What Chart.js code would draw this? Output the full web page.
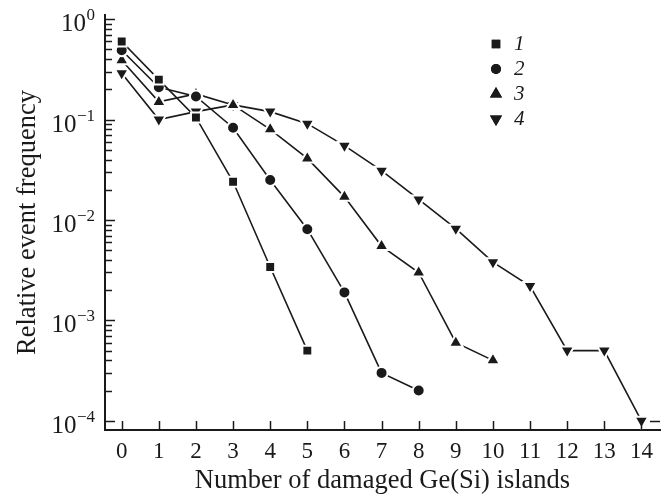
<!DOCTYPE html>
<html>
<head>
<meta charset="utf-8">
<script src="https://cdn.jsdelivr.net/npm/chart.js@4/dist/chart.umd.min.js"></script>
<style>
  html, body { margin: 0; padding: 0; background: #fff; }
  #wrap { width: 670px; height: 499px; }
</style>
</head>
<body>
<div id="wrap"><canvas id="myChart"></canvas></div>
<script>
  const islands = [0, 1, 2, 3, 4, 5, 6, 7, 8, 9, 10, 11, 12, 13, 14];
  const seriesNames = ['1', '2', '3', '4'];

  const series1 = [0.60, 0.25, 0.105, 0.024, 0.0034, 0.0005];
  const series2 = [0.49, 0.21, 0.17, 0.083, 0.025, 0.0081, 0.0019, 0.0003, 0.0002];
  const series3 = [0.39, 0.15, 0.18, 0.14, 0.08, 0.041, 0.017, 0.0055, 0.0030, 0.0006, 0.0004];
  const series4 = [0.29, 0.10, 0.12, 0.14, 0.12, 0.091, 0.055, 0.031, 0.016, 0.0082, 0.0038, 0.0022, 0.0005, 0.0005, 0.0001];

  const yDecades = [0, -1, -2, -3, -4];

  const ink = '#1a1a1a';
  const serif = '"Liberation Serif", "Times New Roman", serif';

  function pts(vals) {
    return vals.map((v, i) => ({ x: islands[i], y: v }));
  }

  function ds(label, vals, style, radius, rotation) {
    return {
      label: label,
      data: pts(vals),
      borderColor: ink,
      borderWidth: 1.6,
      backgroundColor: ink,
      pointStyle: style,
      pointRadius: radius,
      pointRotation: rotation,
      pointBackgroundColor: ink,
      pointBorderColor: '#fff',
      pointBorderWidth: 2,
      tension: 0
    };
  }

  // inward ticks, 10^n labels and legend
  const decor = {
    id: 'decor',
    afterDraw(chart) {
      const ctx = chart.ctx;
      const xs = chart.scales.x, ys = chart.scales.y;
      const area = chart.chartArea;
      ctx.save();
      ctx.strokeStyle = ink;
      ctx.lineWidth = 1.5;

      // y ticks
      yDecades.forEach(e => {
        for (let m = 1; m <= 9; m++) {
          if (e === 0 && m > 1) continue;
          const y = Math.round(ys.getPixelForValue(m * Math.pow(10, e))) + 0.5;
          const len = m === 1 ? 10 : 7;
          ctx.beginPath();
          ctx.moveTo(area.left, y);
          ctx.lineTo(area.left + len, y);
          ctx.stroke();
        }
      });
      // small right-hand tick
      const yr = Math.round(ys.getPixelForValue(1e-4)) + 0.5;
      ctx.beginPath();
      ctx.moveTo(area.right - 10, yr);
      ctx.lineTo(area.right, yr);
      ctx.stroke();

      // x ticks
      islands.forEach(v => {
        const x = Math.round(xs.getPixelForValue(v)) + 0.5;
        ctx.beginPath();
        ctx.moveTo(x, area.bottom);
        ctx.lineTo(x, area.bottom - 9);
        ctx.stroke();
      });

      // y labels 10^n
      ctx.fillStyle = ink;
      ctx.textAlign = 'right';
      ctx.textBaseline = 'alphabetic';
      yDecades.forEach(e => {
        const y = ys.getPixelForValue(Math.pow(10, e));
        const expText = e === 0 ? '0' : '\u2212' + Math.abs(e);
        ctx.font = '17px ' + serif;
        const ew = ctx.measureText(expText).width;
        ctx.fillText(expText, 95, y + 1);
        ctx.font = '25px ' + serif;
        ctx.fillText('10', 95 - ew - 0.5, y + 12);
      });

      // legend
      ctx.textAlign = 'left';
      ctx.textBaseline = 'middle';
      ctx.font = 'italic 21px ' + serif;
      chart.data.datasets.forEach((d, i) => {
        const y = 44 + i * 25;
        Chart.helpers.drawPoint(ctx, {
          pointStyle: d.pointStyle,
          radius: d.pointRadius - 1,
          rotation: d.pointRotation,
          borderWidth: 0
        }, 496, y);
        ctx.fillStyle = ink;
        ctx.fill();
        ctx.fillText(seriesNames[i], 514, y);
      });
      ctx.restore();
    }
  };

  const config = {
    type: 'line',
    data: {
      datasets: [
        ds(seriesNames[0], series1, 'rect', 7, 0),
        ds(seriesNames[1], series2, 'circle', 6, 0),
        ds(seriesNames[2], series3, 'triangle', 8, 0),
        ds(seriesNames[3], series4, 'triangle', 8, 180)
      ]
    },
    options: {
      responsive: false,
      animation: false,
      layout: { padding: { top: 15, right: 10, bottom: 0, left: 0 } },
      plugins: {
        legend: { display: false },
        tooltip: { enabled: false }
      },
      scales: {
        x: {
          type: 'linear',
          min: -0.45,
          max: 14.5,
          afterBuildTicks: s => { s.ticks = islands.map(v => ({ value: v })); },
          afterFit: s => { s.height = 69; },
          grid: { display: false, drawTicks: false },
          border: { display: true, color: ink, width: 2 },
          ticks: {
            autoSkip: false,
            maxRotation: 0,
            padding: 8,
            color: ink,
            font: { family: serif, size: 23 }
          },
          title: {
            display: true,
            text: 'Number of damaged Ge(Si) islands',
            color: ink,
            font: { family: serif, size: 26.5 },
            padding: { top: 0, bottom: 2 }
          }
        },
        y: {
          type: 'logarithmic',
          min: 8.1e-5,
          max: 1.1,
          afterFit: s => { s.width = 105; },
          grid: { display: false, drawTicks: false },
          border: { display: true, color: ink, width: 2 },
          ticks: { display: false },
          title: {
            display: true,
            text: 'Relative event frequency',
            color: ink,
            font: { family: serif, size: 26.5 },
            padding: { top: 12, bottom: 0 }
          }
        }
      }
    },
    plugins: [decor]
  };

  const canvas = document.getElementById('myChart');
  canvas.width = 670;
  canvas.height = 499;
  const myChart = new Chart(canvas, config);
</script>
</body>
</html>
